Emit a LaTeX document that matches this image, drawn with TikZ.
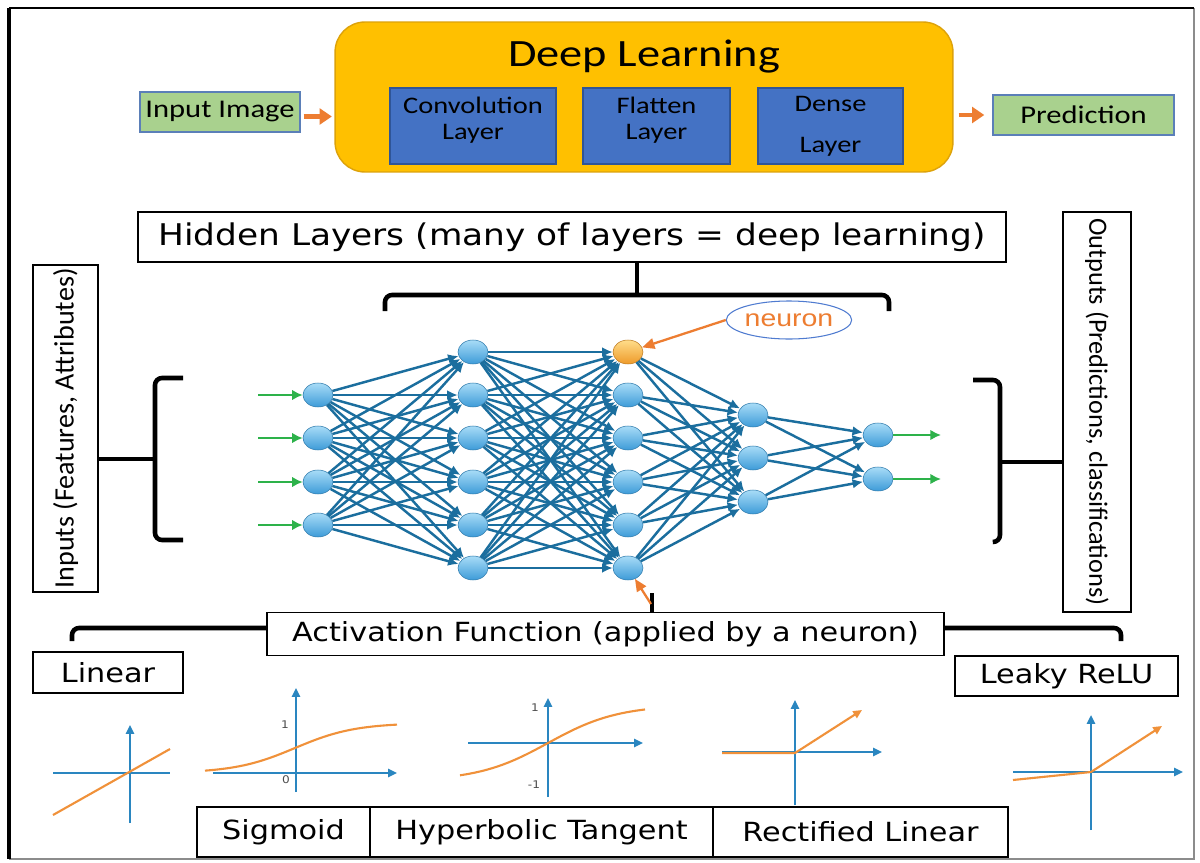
\documentclass[tikz,border=0pt]{standalone}
\usepackage{fontspec}
\setmainfont[FakeStretch=1.15]{DejaVu Sans}
\newfontfamily\boxfont[FakeStretch=1.2]{Carlito}
\newfontfamily\sidefont{Carlito}
\newfontfamily\tagfont[FakeStretch=1.2]{Liberation Sans}
\usetikzlibrary{shapes.geometric,arrows.meta}

\definecolor{dlfill}{HTML}{FFC000}
\definecolor{dledge}{HTML}{DDA20A}
\definecolor{layerfill}{HTML}{4472C4}
\definecolor{layeredge}{HTML}{2F5597}
\definecolor{iofill}{HTML}{A9D18E}
\definecolor{ioedge}{HTML}{5B7FB8}
\definecolor{flowor}{HTML}{ED7D31}
\definecolor{linkblue}{HTML}{1B6E9E}
\definecolor{feedgreen}{HTML}{2DB24A}
\definecolor{axisblue}{HTML}{2A86C0}
\definecolor{curveor}{HTML}{F0913A}
\definecolor{tagedge}{HTML}{4F7BD0}
\definecolor{neutop}{HTML}{A8DCF7}
\definecolor{neubot}{HTML}{3D9BD8}
\definecolor{hottop}{HTML}{FFDD8A}
\definecolor{hotbot}{HTML}{EE9A2A}

\begin{document}
\begin{tikzpicture}[x=0.02cm, y=-0.02cm,
    lbl/.style={draw=black, line width=0.8pt, fill=white, inner sep=0pt,
        font=\fontsize{15}{18}\selectfont},
    layerbox/.style={draw=layeredge, fill=layerfill, line width=0.8pt, inner sep=0pt,
        align=center, minimum height=1.52cm, font=\boxfont\fontsize{13.5}{14.5}\selectfont},
    iobox/.style={draw=ioedge, fill=iofill, line width=0.8pt, inner sep=0pt,
        minimum height=0.8cm, font=\boxfont\fontsize{14.5}{16}\selectfont},
    sidebox/.style={draw=black, line width=0.8pt, fill=white, inner sep=0pt,
        font=\sidefont\fontsize{16}{18}\selectfont},
    flow/.style={draw=flowor, line width=2.4pt, -{Triangle[length=7pt,width=9pt]}},
    hot/.style={draw=flowor, line width=1.3pt, -{Triangle[length=7pt,width=6pt]}},
    brk/.style={draw=black, line width=2.6pt},
    neu/.style={ellipse, minimum width=0.6cm, minimum height=0.48cm, inner sep=0pt,
        draw=neubot!80!black, line width=0.3pt, top color=neutop, bottom color=neubot},
    neuhot/.style={neu, draw=hotbot!80!black, top color=hottop, bottom color=hotbot},
    link/.style={draw=linkblue, line width=1.4pt, -{Latex[length=6pt,width=5.5pt]}},
    feed/.style={draw=feedgreen, line width=1.6pt, -{Latex[length=6pt,width=6pt]}},
    ax/.style={draw=axisblue, line width=1.2pt},
    axarr/.style={ax, -{Triangle[length=5pt,width=4.5pt]}},
    crv/.style={draw=curveor, line width=1.2pt},
    tick/.style={inner sep=0pt, text=black!70, font=\fontsize{6}{7}\selectfont}]

\useasboundingbox (0,0) rectangle (1200,862);
\fill[white] (0,0) rectangle (1200,862);

% frame
\draw[black!45, line width=0.6pt] (1194,8) -- (1194,859) -- (9,859);
\draw[black, line width=1.2pt] (9,8) -- (1194,8);
\draw[black, line width=2pt] (9,8) -- (9,859);

% deep learning block
\node[draw=dledge, fill=dlfill, line width=0.8pt, rounded corners=0.6cm,
    minimum width=12.36cm, minimum height=3cm] (dl) at (644,97) {};
\node[font=\boxfont\fontsize{22}{24}\selectfont] (dltitle) at (644,57) {Deep Learning};
\node[layerbox, minimum width=3.32cm, text depth=0.3cm] (conv) at (473,126) {Convolution\\Layer};
\node[layerbox, minimum width=2.94cm, text depth=0.3cm] (flat) at (656.5,126) {Flatten\\Layer};
\node[layerbox, minimum width=2.9cm] (dense) at (830.5,126) {Dense\\[9pt]Layer};
\node[iobox, minimum width=3.2cm] (inimg) at (220,112) {Input Image};
\node[iobox, minimum width=3.62cm] (pred) at (1083.5,115) {Prediction};
\draw[flow] ([xshift=0.06cm,yshift=-0.09cm]inimg.east) -- ([xshift=-0.05cm,yshift=-0.09cm]inimg.east -| dl.west);
\draw[flow] ([xshift=0.1cm]dl.east |- pred.west) -- ([xshift=-0.16cm]pred.west);

% hidden layers
\node[lbl, minimum width=17.36cm, minimum height=1cm, font=\fontsize{17}{20}\selectfont] (hid) at (572,237)
    {Hidden Layers (many of layers = deep learning)};
\coordinate (hbr) at (637,295);
\coordinate (hbl) at (385,311);
\coordinate (hbrr) at (889,311);
\draw[brk] (hid.south -| hbr) -- (hbr);
\draw[brk, rounded corners=4pt] (hbl) |- (hbr) -| (hbrr);

% inputs / outputs
\node[sidebox, rotate=90, minimum width=6.54cm, minimum height=1.3cm] (inp) at (65.5,428.5)
    {Inputs (Features, Attributes)};
\coordinate (ibr) at (155,459);
\coordinate (ibt) at (183,378);
\coordinate (ibb) at (183,540);
\draw[brk] (ibr -| inp.south) -- (ibr);
\draw[brk, rounded corners=4pt] (ibt) -| (ibr) |- (ibb);
\node[sidebox, rotate=-90, minimum width=8cm, minimum height=1.36cm, font=\sidefont\fontsize{15}{18}\selectfont] (outp) at (1097,412)
    {Outputs (Predictions, classifications)};
\coordinate (obr) at (1000,462);
\coordinate (obt) at (973,380);
\coordinate (obb) at (993,542);
\draw[brk] (obr -| outp.south) -- (obr);
\draw[brk, rounded corners=4pt] (obt) -| (obr) |- (obb);

% network
\foreach \y [count=\i] in {395,438,482,525}
    \node[neu] (a\i) at (318,\y) {};
\foreach \y [count=\i] in {352,395,438,482,525,568}
    \node[neu] (b\i) at (473,\y) {};
\node[neuhot] (c1) at (628,352) {};
\foreach \y [count=\i from 2] in {395,438,482,525,568}
    \node[neu] (c\i) at (628,\y) {};
\foreach \y [count=\i] in {415,458,502}
    \node[neu] (d\i) at (753,\y) {};
\foreach \y [count=\i] in {435,479}
    \node[neu] (e\i) at (878,\y) {};

\foreach \i in {1,...,4}
    \foreach \j in {1,...,6}
        \draw[link] (a\i) -- (b\j);
\foreach \i in {1,...,6}
    \foreach \j in {1,...,6}
        \draw[link] (b\i) -- (c\j);
\foreach \i in {1,...,6}
    \foreach \j in {1,...,3}
        \draw[link] (c\i) -- (d\j);
\foreach \i in {1,...,3}
    \foreach \j in {1,...,2}
        \draw[link] (d\i) -- (e\j);

\foreach \y [count=\i] in {395,438,482,525} {
    \coordinate (in\i) at (258,\y);
    \draw[feed] (in\i) -- (a\i);
}
\foreach \y [count=\i] in {435,479} {
    \coordinate (out\i) at (941,\y);
    \draw[feed] (e\i) -- (out\i);
}

% neuron callout
\node[ellipse, draw=tagedge, line width=0.6pt, minimum width=2.32cm, minimum height=0.76cm,
    inner sep=0pt, text=flowor, font=\tagfont\fontsize{13.5}{15}\selectfont] (ntag) at (789,320) {neuron};
\draw[hot] (ntag.west) -- (c1);

% activation function
\node[lbl, minimum width=13.54cm, minimum height=0.86cm] (act) at (605.5,634)
    {Activation Function (applied by a neuron)};
\coordinate (astem) at (652,593);
\coordinate (afoot) at (651,604);
\coordinate (alev) at (0,628);
\coordinate (abl) at (72,641);
\coordinate (abr) at (1121,641);
\draw[brk] (act.north -| astem) -- (astem);
\draw[hot] (afoot) -- (c6);
\draw[brk, rounded corners=4pt] (act.west |- alev) -| (abl);
\draw[brk, rounded corners=4pt] (act.east |- alev) -| (abr);

% function names
\node[lbl, minimum width=3cm, minimum height=0.82cm] (lin) at (108,672.5) {Linear};
\node[lbl, minimum width=4.46cm, minimum height=0.8cm] (leaky) at (1066.5,676) {Leaky ReLU};
\node[lbl, minimum width=3.46cm, minimum height=1cm] (sigm) at (283.5,832) {Sigmoid};
\node[lbl, minimum width=6.86cm, minimum height=1cm] (tanh) at (541.5,832) {Hyperbolic Tangent};
\node[lbl, minimum width=5.9cm, minimum height=1cm] (relu) at (860.5,832) {Rectified Linear};

% linear
\draw[ax] (53,773) -- (170,773);
\draw[axarr] (130,823) -- (130,725);
\draw[crv] (53,815) -- (170,749);

% sigmoid
\draw[axarr] (213,773) -- (397,773);
\draw[axarr] (296,792) -- (296,688);
\draw[crv] plot[domain=205:397, samples=40] (\x,{773-50/(1+exp(-(\x-295)/30))});
\node[tick] (sone) at (285,725) {1};
\node[tick] (szero) at (286,780) {0};

% hyperbolic tangent
\draw[axarr] (468,743) -- (643,743);
\draw[axarr] (548,797) -- (548,698);
\draw[crv] plot[domain=460:645, samples=40] (\x,{743-38*tanh((\x-548)/70)});
\node[tick] (tone) at (535,708) {1};
\node[tick] (tmone) at (534,785) {-1};

% rectified linear
\draw[axarr] (722,752) -- (882,752);
\draw[axarr] (795,805) -- (795,700);
\draw[crv, -{Triangle[length=5pt,width=4.5pt]}] (722,753) -- (795,753) -- (862,710);

% leaky relu
\draw[axarr] (1013,772) -- (1183,772);
\draw[axarr] (1091,830) -- (1091,715);
\draw[crv, -{Triangle[length=5pt,width=4.5pt]}] (1013,780) -- (1091,772) -- (1162,726);

\end{tikzpicture}
\end{document}
